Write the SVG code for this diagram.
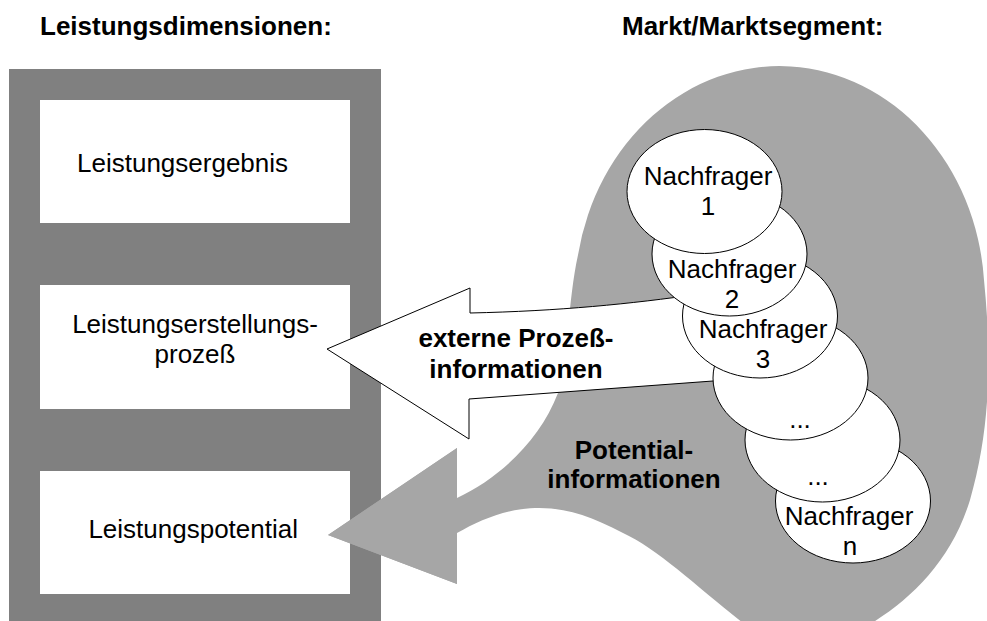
<svg xmlns="http://www.w3.org/2000/svg" width="987" height="621" viewBox="0 0 987 621">
  <style>
    text { font-family: "Liberation Sans", Arial, Helvetica, sans-serif; font-size: 26px; fill: #000; }
    .title, .flow { font-weight: bold; }
    .mid { text-anchor: middle; }
    .panel { fill: #808080; }
    .box { fill: #ffffff; }
    .market { fill: #a6a6a6; }
    .client { fill: #ffffff; stroke: #000; stroke-width: 1; }
    .hollow { fill: #ffffff; stroke: #000; stroke-width: 1; stroke-linejoin: miter; }
  </style>

  <!-- headings -->
  <text class="title" x="40" y="35">Leistungsdimensionen:</text>
  <text class="title" x="622" y="35">Markt/Marktsegment:</text>

  <!-- service dimensions column -->
  <g id="leistungsdimensionen">
    <rect class="panel" x="9" y="69" width="372" height="560"/>
  </g>
  <g id="leistungsergebnis">
    <rect class="box" x="40" y="100" width="310" height="123"/>
    <text x="77" y="172">Leistungsergebnis</text>
  </g>
  <g id="leistungserstellungsprozess">
    <rect class="box" x="40" y="285" width="310" height="124"/>
    <text class="mid" x="195" y="333">Leistungserstellungs-</text>
    <text class="mid" x="195" y="363">prozeß</text>
  </g>
  <g id="leistungspotential">
    <rect class="box" x="40" y="471" width="310" height="123"/>
    <text x="298" y="538" text-anchor="end">Leistungspotential</text>
  </g>

  <!-- market segment area, its tongue forms the potential-information arrow -->
  <g id="markt">
    <path class="market" d="M 457 498 C 500 478, 540 440, 558 393 C 568 360, 568 300, 578 255 A 205 231 0 0 1 984 280 C 992 360, 990 430, 970 500 C 950 565, 905 605, 860 630 L 752 630 C 700 590, 660 550, 623 533 C 590 516, 565 507, 535 508 C 505 509, 480 520, 457 533 L 457 584 L 328 535 L 457 448 Z"/>
  </g>

  <!-- information flows -->
  <g id="connectors">
    <g id="prozessinformationen">
      <path class="hollow" d="M 327 349 L 470 288 L 470 313 C 560 311, 630 304, 700 294 L 740 379 L 469 399 L 469 439 Z"/>
      <text class="flow mid" x="516" y="347">externe Prozeß-</text>
      <text class="flow mid" x="516" y="378">informationen</text>
    </g>
    <g id="potentialinformationen">
      <path class="market" d="M 457 448 L 328 535 L 457 584 Z"/>
      <text class="flow mid" x="634" y="459">Potential-</text>
      <text class="flow mid" x="634" y="488">informationen</text>
    </g>
  </g>

  <!-- customers, back to front -->
  <g id="nachfrager-n">
    <ellipse class="client" cx="853" cy="501" rx="77.5" ry="62"/>
    <text class="mid" x="849" y="525">Nachfrager</text>
    <text class="mid" x="850" y="555">n</text>
  </g>
  <g id="nachfrager-5">
    <ellipse class="client" cx="822.5" cy="440" rx="77.5" ry="62"/>
    <text class="mid" x="818" y="485">...</text>
  </g>
  <g id="nachfrager-4">
    <ellipse class="client" cx="790.5" cy="378" rx="77.5" ry="62"/>
    <text class="mid" x="800" y="428">...</text>
  </g>
  <g id="nachfrager-3">
    <ellipse class="client" cx="760" cy="316" rx="77.5" ry="62"/>
    <text class="mid" x="763" y="338">Nachfrager</text>
    <text class="mid" x="763" y="368">3</text>
  </g>
  <g id="nachfrager-2">
    <ellipse class="client" cx="729.5" cy="254" rx="77.5" ry="62"/>
    <text class="mid" x="732" y="278">Nachfrager</text>
    <text class="mid" x="732" y="308">2</text>
  </g>
  <g id="nachfrager-1">
    <ellipse class="client" cx="704.5" cy="191.5" rx="77.5" ry="62"/>
    <text class="mid" x="708" y="185">Nachfrager</text>
    <text class="mid" x="708" y="215">1</text>
  </g>
</svg>
